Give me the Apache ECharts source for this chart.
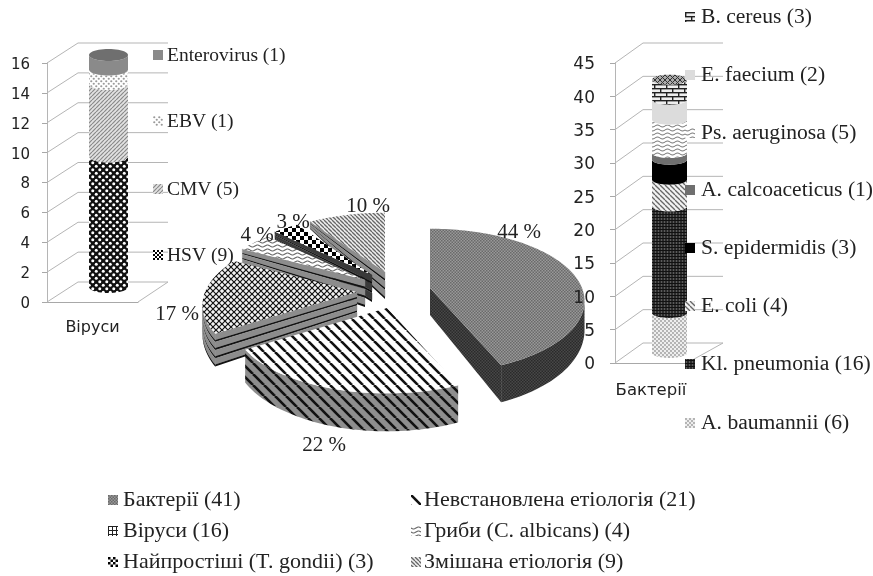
<!DOCTYPE html>
<html><head><meta charset="utf-8">
<style>html,body{margin:0;padding:0;background:#fff}#c{width:873px;height:576px;filter:blur(.45px)}</style>
<script src="https://cdn.jsdelivr.net/npm/echarts@6/dist/echarts.min.js"></script>
</head><body><div id="c"></div>
<script>
const etiologyNames=['Бактерії (41)','Невстановлена етіологія (21)','Віруси (16)','Гриби (C. albicans) (4)','Найпростіші (T. gondii) (3)','Змішана етіологія (9)'];
const etiologyValues=[41,21,16,4,3,9];
const virusNames=['HSV (9)','CMV (5)','EBV (1)','Enterovirus (1)'];
const virusValues=[9,5,1,1];
const virusTicks=[0,2,4,6,8,10,12,14,16];
const bacteriaNames=['A. baumannii (6)','Kl. pneumonia (16)','E. coli (4)','S. epidermidis (3)','A. calcoaceticus (1)','Ps. aeruginosa (5)','E. faecium (2)','B. cereus (3)'];
const bacteriaValues=[6,16,4,3,1,5,3,3];
const bacteriaTicks=[0,5,10,15,20,25,30,35,40,45];

// ---------- textures
function pat(w,h,draw){const c=document.createElement('canvas');c.width=w;c.height=h;const x=c.getContext('2d');draw(x,w,h);return {image:c,repeat:'repeat'};}
function diag(t,fg,bg,lw,dir){return pat(t,t,(x,w)=>{x.fillStyle=bg;x.fillRect(0,0,w,w);x.strokeStyle=fg;x.lineWidth=lw;
  for(let i=-1;i<=1;i++){x.beginPath();if(dir==='\\'){x.moveTo(i*w,0);x.lineTo(i*w+w,w);}else{x.moveTo(i*w+w,0);x.lineTo(i*w,w);}x.stroke();}});}
function cross(t,fg,bg,lw){return pat(t,t,(x,w)=>{x.fillStyle=bg;x.fillRect(0,0,w,w);x.strokeStyle=fg;x.lineWidth=lw;
  for(let i=-1;i<=1;i++){x.beginPath();x.moveTo(i*w,0);x.lineTo(i*w+w,w);x.moveTo(i*w+w,0);x.lineTo(i*w,w);x.stroke();}});}
function dots(t,fg,bg,r){return pat(t,t,(x,w)=>{x.fillStyle=bg;x.fillRect(0,0,w,w);x.fillStyle=fg;
  [[w/4,w/4],[3*w/4,3*w/4]].forEach(p=>{x.beginPath();x.arc(p[0],p[1],r,0,7);x.fill();});});}
function checker(t,a,b){return pat(t,t,(x,w)=>{x.fillStyle=b;x.fillRect(0,0,w,w);x.fillStyle=a;x.fillRect(0,0,w/2,w/2);x.fillRect(w/2,w/2,w/2,w/2);});}
function wave(w0,h0,fg,bg,lw){return pat(w0,h0,(x,w,h)=>{x.fillStyle=bg;x.fillRect(0,0,w,h);x.strokeStyle=fg;x.lineWidth=lw;x.beginPath();
  for(let i=0;i<=w;i++){const y=h/2+(h/4)*Math.sin(i/w*2*Math.PI);i?x.lineTo(i,y):x.moveTo(i,y);}x.stroke();});}
const bricks=pat(12,8,(x,w,h)=>{x.fillStyle='#eee';x.fillRect(0,0,w,h);x.fillStyle='#222';x.fillRect(0,0,w,1.4);x.fillRect(0,4,w,1.4);x.fillRect(0,0,1.4,4);x.fillRect(6,4,1.4,4);});
const vlines=pat(3,3,(x)=>{x.fillStyle='#2b2b2b';x.fillRect(0,0,3,3);x.fillStyle='#5a5a5a';x.fillRect(1,0,1,3);x.fillStyle='#111';x.fillRect(0,1,3,1);});

const pieTop=[checker(3,'#6a6a6a','#999'),diag(11,'#111','#fff',2.6,'\\'),cross(6,'#111','#f4f4f4',1.2),wave(10,4,'#666','#fff',1.1),checker(8,'#000','#fff'),diag(4,'#666','#eee',1.3,'\\')];
const pieWall=[checker(3,'#2a2a2a','#484848'),diag(11,'#111','#8e8e8e',2.6,'\\'),null,null,null,null];
const wallBands=[0,0,4,3,3,3];
const virusFill=[dots(7,'#fff','#111',1.5),diag(4,'#8a8a8a','#e2e2e2',1.2,'/'),dots(5,'#9a9a9a','#fff',1.1),'#8a8a8a'];
const bactFill=[dots(4,'#999','#eee',.9),vlines,diag(5,'#666','#f2f2f2',1.3,'\\'),'#000','#6f6f6f',wave(10,4,'#777','#fff',1),'#dcdcdc',bricks];
const legendIconVirus=[checker(4,'#000','#fff'),virusFill[1],virusFill[2],'#8a8a8a'];

// ---------- 3D pie, angles from the values
const total=etiologyValues.reduce((a,b)=>a+b,0);
const pieRx=152,pieRy=70,persp=.18;
const apex=[[430,288],[387,308],[357,292],[365,280],[372,275],[385,272]];  // explosion of each slice
const drawOrder=[5,4,3,2,1,0];
const labelPos=[[519,232],[324,445],[177,314],[257,235],[293,222],[368,206]];
function sliceAngles(){let a=0;return etiologyValues.map(v=>{const s=a;a+=v/total*2*Math.PI;return [s,a];});}
const angles=sliceAngles();
function wallDepth(Y){return Y>0?Math.max(3,27-24*Y):27-11*Y;}
function proj(i,th,r){const X=r*Math.sin(th),Y=r*Math.cos(th),s=1/(1+persp*Y);
  return {x:apex[i][0]+pieRx*X*s,y:apex[i][1]-pieRy*Y*s,d:wallDepth(Y)};}
function renderSlice(params,api){
  const i=api.value(0),[a0,a1]=angles[i],base=drawOrder.indexOf(i)*100;
  const n=Math.max(6,Math.round((a1-a0)/0.03));
  const o=[proj(i,0,0)];
  for(let k=0;k<=n;k++)o.push(proj(i,a0+(a1-a0)*k/n,1));
  o.push(proj(i,0,0));
  const runs=[];let cur=null;
  for(let k=0;k<o.length-1;k++){
    const radial=(k===0||k===o.length-2);
    if(o[k+1].x-o[k].x<-0.001){
      if(cur&&!radial&&!cur.radial){cur.pts.push(o[k+1]);}
      else{cur={radial,pts:[o[k],o[k+1]]};runs.push(cur);}
    }else cur=null;
  }
  const children=[];let z=base;
  runs.forEach(r=>{
    const poly=(f0,f1)=>r.pts.map(p=>[p.x,p.y+p.d*f0]).concat(r.pts.slice().reverse().map(p=>[p.x,p.y+p.d*f1]));
    if(pieWall[i]){
      children.push({type:'polygon',z2:++z,shape:{points:poly(0,1)},style:{fill:pieWall[i]}});
    }else{
      const bands=wallBands[i],c=i===4?'#3a3a3a':'#8c8c8c';
      for(let b=0;b<bands;b++){
        const f0=b/bands;
        children.push({type:'polygon',z2:++z,shape:{points:poly(f0,f0+.75/bands)},style:{fill:c,stroke:c,lineWidth:.4}});
        children.push({type:'polygon',z2:++z,shape:{points:poly(f0+.75/bands,f0+1/bands)},style:{fill:'#111'}});
      }
    }
  });
  children.push({type:'polygon',z2:++z,shape:{points:o.map(p=>[p.x,p.y])},style:{fill:pieTop[i]}});
  children.push({type:'text',z2:1000,x:labelPos[i][0],y:labelPos[i][1],style:{text:Math.round(etiologyValues[i]/total*100)+' %',fill:'#222',font:'21px "Liberation Serif"',align:'center',verticalAlign:'middle'}});
  return {type:'group',children};
}

// ---------- cylinder, heights through the hidden value axis
function cylinderRenderer(fills,ry,topFill){
  const count=fills.length;
  return function(params,api){
    const i=api.value(3),cx=api.coord([0,0])[0],w=api.size([1,0])[0],rx=w/2;
    const y0=api.coord([0,api.value(1)])[1],y1=api.coord([0,api.value(2)])[1];
    const arc=(y,rev)=>{const p=[];for(let k=0;k<=24;k++){const t=Math.PI*k/24;p.push([cx-rx*Math.cos(t),y+ry*Math.sin(t)]);}return rev?p.reverse():p;};
    const ch=[{type:'polygon',z2:i*2,shape:{points:arc(y0,false).concat(arc(y1,true))},style:{fill:fills[i]}}];
    if(i===count-1){const e=[];for(let k=0;k<48;k++){const t=2*Math.PI*k/48;e.push([cx+rx*Math.cos(t),y1+ry*Math.sin(t)]);}
      ch.push({type:'polygon',z2:i*2+1,shape:{points:e},style:{fill:topFill}});}
    return {type:'group',children:ch};
  };
}
function stackRows(values){let s=0;return values.map((v,i)=>{const r=[0,s,s+v,i];s+=v;return r;});}

// ---------- receding walls, from the tick values
function wallRenderer(dx,dy,endX){
  return function(params,api){
    const c=params.coordSys,v=api.value(1),y=api.coord([0,v])[1];
    const lines=[[[c.x,y],[c.x+dx,y+dy],[endX,y+dy]]];
    if(v===0)lines.push([[c.x+c.width,y],[endX,y+dy]]);
    return {type:'group',children:lines.map(l=>({type:'polyline',shape:{points:l},style:{stroke:'#b5b5b5',lineWidth:1,fill:null}}))};
  };
}

// ---------- legends
function legendItem(icon,iconX,textX,y,text,size){
  return [{type:'rect',left:iconX,top:y-5,z:5,shape:{width:10,height:10},style:{fill:icon}},
          {type:'text',left:textX,top:y-size*.48,z:5,style:{text,font:size+'px "Liberation Serif"',fill:'#222'}}];
}
const graphics=[];
const vY=[255,189,121,55];
virusNames.forEach((t,i)=>graphics.push(...legendItem(legendIconVirus[i],153,167,vY[i],t,19.5)));
const bY=[423,364,306,248,190,133,75,17];
bacteriaNames.forEach((t,i)=>graphics.push(...legendItem(bactFill[i],685,701,bY[i],t,21.6)));
const botX=[[108,123],[411,424],[108,123],[411,424],[108,123],[411,424]],botY=[500,500,531,531,562,562];
etiologyNames.forEach((t,i)=>graphics.push(...legendItem(i===2?pat(4,4,(x)=>{x.fillStyle='#fff';x.fillRect(0,0,4,4);x.fillStyle='#222';x.fillRect(0,0,4,1);x.fillRect(0,0,1,4);}):(i===4?checker(5,'#000','#fff'):pieTop[i]),botX[i][0],botX[i][1],botY[i],t,22)));

const tickFont={fontFamily:'DejaVu Sans',color:'#222',verticalAlign:'top',lineHeight:4};
function visibleAxes(grid,max,interval,name,size,margin,catSize,catMargin){
  return {x:{type:'category',gridIndex:grid,data:[name],axisLine:{lineStyle:{color:'#a8a8a8'}},axisTick:{length:5,lineStyle:{color:'#a8a8a8'}},axisLabel:{fontFamily:'DejaVu Sans',color:'#222',fontSize:catSize,margin:catMargin}},
          y:{type:'value',gridIndex:grid,z:10,min:0,max,interval,axisLine:{show:true,lineStyle:{color:'#b5b5b5'}},axisTick:{show:true,length:5,lineStyle:{color:'#a8a8a8'}},splitLine:{show:false},axisLabel:{...tickFont,fontSize:size,margin}}};
}
function hiddenAxes(grid,max){return {x:{type:'category',gridIndex:grid,data:['c'],show:false},y:{type:'value',gridIndex:grid,min:0,max,show:false}};}
const a0=visibleAxes(0,16,2,'Віруси',15,17,16,18),a1=visibleAxes(1,45,5,'Бактерії',17,20,16.5,19),h0=hiddenAxes(2,16),h1=hiddenAxes(3,45);

const chart=echarts.init(document.getElementById('c'),null,{renderer:'canvas'});
chart.setOption({
  animation:false,backgroundColor:'#fff',
  grid:[{left:47,top:63,width:91,height:239},{left:615,top:63,width:72,height:300},{left:89,top:55,width:39,height:232},{left:652,top:53,width:35,height:300}],
  xAxis:[a0.x,a1.x,h0.x,h1.x],yAxis:[a0.y,a1.y,h0.y,h1.y],
  graphic:graphics,
  series:[
    {type:'custom',name:'wall-v',xAxisIndex:0,yAxisIndex:0,encode:{x:0,y:1},data:virusTicks.map(t=>[0,t]),renderItem:wallRenderer(31,-20,168),z:-3},
    {type:'custom',name:'wall-b',xAxisIndex:1,yAxisIndex:1,encode:{x:0,y:1},data:bacteriaTicks.map(t=>[0,t]),renderItem:wallRenderer(28,-20,723),z:-3},
    {type:'custom',name:'Віруси',xAxisIndex:2,yAxisIndex:2,encode:{x:0,y:[1,2]},data:stackRows(virusValues),renderItem:cylinderRenderer(virusFill,6,'#6f6f6f'),z:3},
    {type:'custom',name:'Бактерії',xAxisIndex:3,yAxisIndex:3,encode:{x:0,y:[1,2]},data:stackRows(bacteriaValues),renderItem:cylinderRenderer(bactFill,5,cross(5,'#333','#aaa',1)),z:3},
    {type:'custom',name:'Етіологія',coordinateSystem:'none',data:etiologyValues.map((v,i)=>[i,v]),renderItem:renderSlice,z:-1}
  ]
});
</script></body></html>
